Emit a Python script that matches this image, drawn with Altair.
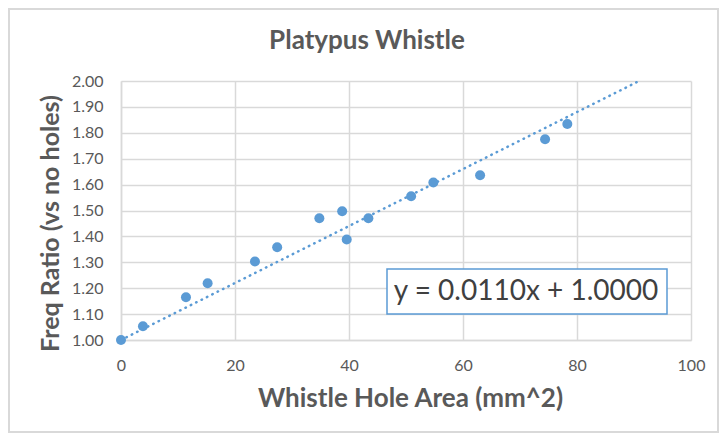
import altair as alt
import pandas as pd

# readings
hole_area = [0, 3.85, 11.4, 15.2, 23.5, 27.4, 34.8, 38.8, 39.6, 43.4, 50.9, 54.8, 63.0, 74.4, 78.3]
freq_ratio = [1.00, 1.053, 1.165, 1.219, 1.303, 1.358, 1.470, 1.497, 1.388, 1.470,
              1.555, 1.608, 1.636, 1.775, 1.834]

# Excel linear trendline (intercept fixed at 1)
trend_x = [0, 90.9]
trend_y = [1.0, 2.0]
equation = ["y = 0.0110x + 1.0000"]

x_ticks = [0, 20, 40, 60, 80, 100]
y_ticks = [1.0, 1.1, 1.2, 1.3, 1.4, 1.5, 1.6, 1.7, 1.8, 1.9, 2.0]

BLUE = "#5B9BD5"
GREY = "#595959"
LINE = "#D9D9D9"
FONT = "Lato"

df_points = pd.DataFrame({"area": hole_area, "ratio": freq_ratio})
df_trend = pd.DataFrame({"area": trend_x, "ratio": trend_y})
df_eq = pd.DataFrame({"label": equation})
df_one = pd.DataFrame({"k": [0]})

x = alt.X(
    "area:Q",
    scale=alt.Scale(domain=[0, 100], nice=False, zero=False),
    axis=alt.Axis(
        values=x_ticks,
        title="Whistle Hole Area (mm^2)",
        titleFontSize=26,
        labelPadding=17,
        labelFlush=False,
        titleX=289,
        titleY=58,
        titleBaseline="middle",
    ),
)
y = alt.Y(
    "ratio:Q",
    scale=alt.Scale(domain=[1.0, 2.0], nice=False, zero=False),
    axis=alt.Axis(
        values=y_ticks,
        format=".2f",
        title="Freq Ratio (vs no holes)",
        titleFontSize=25,
        labelPadding=18,
        labelFlush=False,
        titleAngle=-90,
        titleX=-71,
        titleY=142,
        titleBaseline="middle",
        titleAlign="center",
    ),
)

# chart-area frame, stroke only so the grid stays visible
border = (
    alt.Chart(df_one)
    .mark_rect(fill="white", fillOpacity=0, stroke=LINE, strokeWidth=2)
    .encode(x=alt.value(-112), x2=alt.value(597), y=alt.value(-72), y2=alt.value(351))
)

trend = alt.Chart(df_trend).mark_line(
    color=BLUE, strokeWidth=2.5, strokeDash=[0.5, 5.5], strokeCap="round"
).encode(x=x, y=y)

dots = alt.Chart(df_points).mark_circle(size=100, color=BLUE, opacity=1).encode(x=x, y=y)

eq_box = (
    alt.Chart(df_one)
    .mark_rect(fill="white", stroke=BLUE, strokeWidth=1.5)
    .encode(x=alt.value(266), x2=alt.value(546), y=alt.value(188), y2=alt.value(233))
)
eq_text = (
    alt.Chart(df_eq)
    .mark_text(font=FONT, fontSize=28, color="#404040", align="center", baseline="middle")
    .encode(x=alt.value(405), y=alt.value(211), text="label:N")
)

chart = (
    alt.layer(border, trend, dots, eq_box, eq_text)
    .properties(
        width=570,
        height=259,
        autosize=alt.AutoSizeParams(type="none"),
        padding={"left": 113, "top": 73, "right": 28, "bottom": 93},
        title=alt.TitleParams(
            "Platypus Whistle",
            font=FONT,
            fontSize=26,
            fontWeight="bold",
            color=GREY,
            anchor="middle",
            dx=-39,
            offset=-46,
        ),
    )
    .configure_view(strokeWidth=0)
    .configure_axis(
        labelFont=FONT,
        labelFontSize=16,
        labelColor=GREY,
        titleFont=FONT,
        titleFontWeight="bold",
        titleColor=GREY,
        gridColor=LINE,
        gridWidth=1.5,
        domainColor=LINE,
        domainWidth=1.5,
        ticks=False,
    )
)

chart.save("out.html", embed_options={"renderer": "svg", "actions": False})
